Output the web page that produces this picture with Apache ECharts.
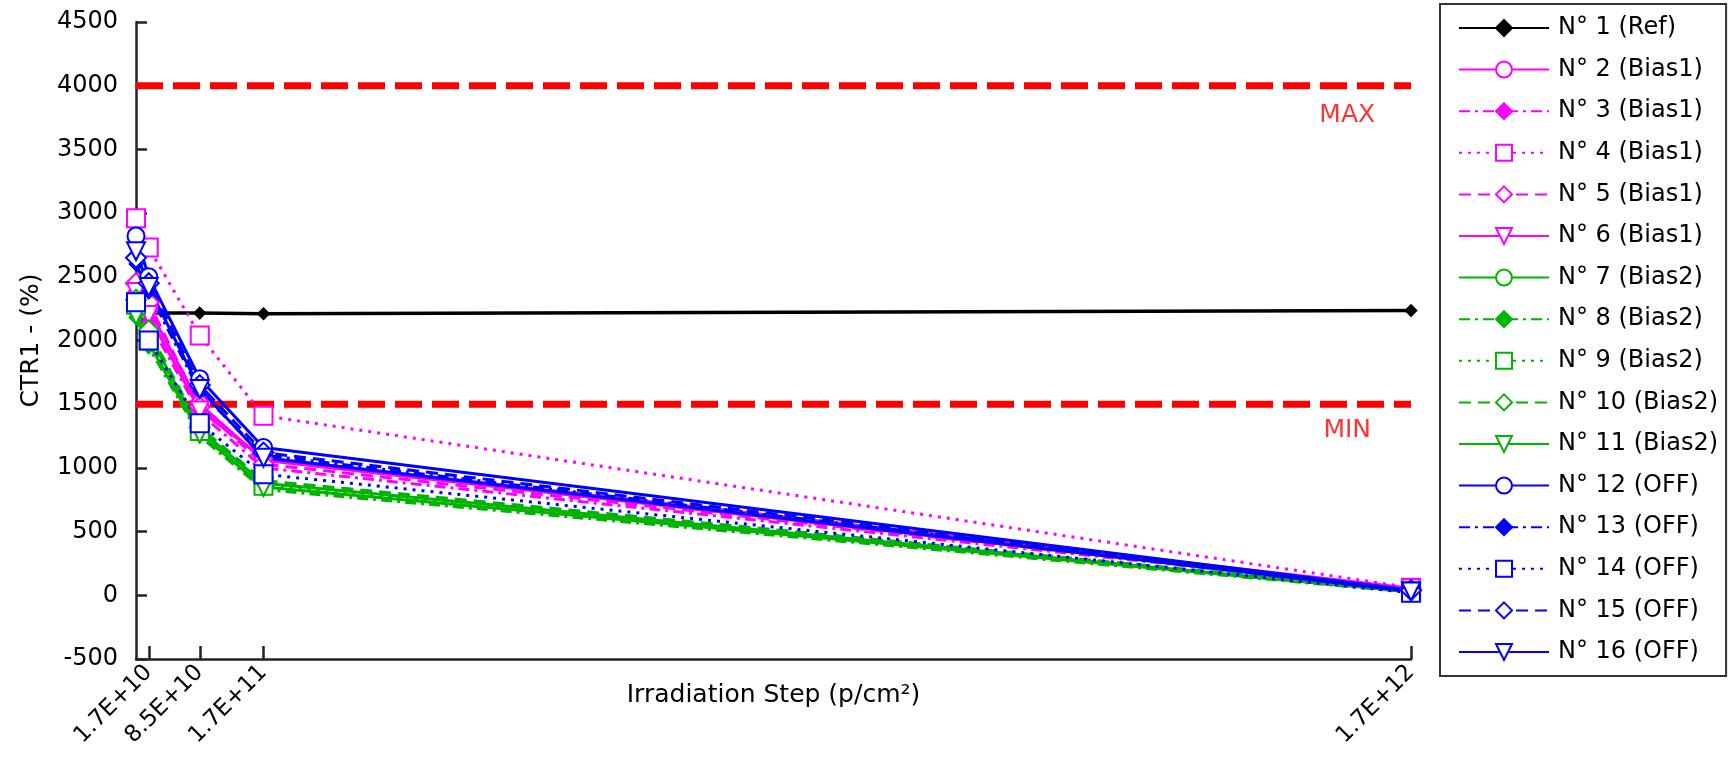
<!DOCTYPE html>
<html>
<head>
<meta charset="utf-8">
<script src="https://cdn.jsdelivr.net/npm/echarts@6/dist/echarts.min.js"></script>
<style>
html,body{margin:0;padding:0;background:#fff;}
#chart{width:1734px;height:768px;}
</style>
</head>
<body>
<div id="chart"></div>
<script>
// ---- Data ----
const xSteps = [0, 1.7e10, 8.5e10, 1.7e11, 1.7e12];
const xTickValues = [1.7e10, 8.5e10, 1.7e11, 1.7e12];
const xTickLabels = ['1.7E+10', '8.5E+10', '1.7E+11', '1.7E+12'];

const seriesNames = [
  'N° 1 (Ref)', 'N° 2 (Bias1)', 'N° 3 (Bias1)', 'N° 4 (Bias1)', 'N° 5 (Bias1)', 'N° 6 (Bias1)',
  'N° 7 (Bias2)', 'N° 8 (Bias2)', 'N° 9 (Bias2)', 'N° 10 (Bias2)', 'N° 11 (Bias2)',
  'N° 12 (OFF)', 'N° 13 (OFF)', 'N° 14 (OFF)', 'N° 15 (OFF)', 'N° 16 (OFF)'
];

const n1  = [2210, 2215, 2215, 2210, 2235];
const n2  = [2350, 2250, 1500, 1060, 40];
const n3  = [2300, 2150, 1430, 1000, 45];
const n4  = [2960, 2730, 2040, 1410, 60];
const n5  = [2450, 2300, 1480, 1030, 50];
const n6  = [2380, 2200, 1450, 1080, 55];
const n7  = [2250, 2050, 1300, 880, 30];
const n8  = [2180, 1950, 1250, 830, 25];
const n9  = [2280, 2000, 1290, 860, 30];
const n10 = [2320, 2080, 1320, 900, 35];
const n11 = [2200, 1980, 1270, 850, 30];
const n12 = [2820, 2500, 1700, 1160, 40];
const n13 = [2600, 2380, 1600, 1100, 35];
const n14 = [2300, 2000, 1350, 950, 20];
const n15 = [2650, 2450, 1650, 1120, 40];
const n16 = [2700, 2420, 1620, 1080, 30];
const seriesValues = [n1, n2, n3, n4, n5, n6, n7, n8, n9, n10, n11, n12, n13, n14, n15, n16];

const limitX = [0, 1.7e12];
const maxLimit = 4000;
const minLimit = 1500;
const limitLabels = [
  {text: 'MAX', x: 1.615e12, y: 3770},
  {text: 'MIN', x: 1.615e12, y: 1290}
];

// ---- Styles ----
const PINK = '#ff00ff', GREEN = '#00b400', BLUE = '#0000ff', BLACK = '#000000';
const groupColor = [BLACK, PINK, PINK, PINK, PINK, PINK, GREEN, GREEN, GREEN, GREEN, GREEN, BLUE, BLUE, BLUE, BLUE, BLUE];
const patterns = [
  {type: 'solid', symbol: 'emptyCircle', size: 17, rot: 0},
  {type: [11, 5, 3, 5], symbol: 'diamond', size: 12, rot: 0},
  {type: [3, 6], symbol: 'emptyRect', size: 18, rot: 0},
  {type: [12, 7], symbol: 'emptyDiamond', size: 20, rot: 0},
  {type: 'solid', symbol: 'emptyTriangle', size: 18, rot: 180}
];

const FONT = 'DejaVu Sans';
const series = [];
seriesValues.forEach((vals, i) => {
  let p;
  if (i === 0) p = {type: 'solid', symbol: 'diamond', size: 10, rot: 0};
  else p = patterns[(i - 1) % 5];
  series.push({
    name: seriesNames[i],
    type: 'line',
    data: xSteps.map((x, k) => [x, vals[k]]),
    symbol: p.symbol,
    symbolSize: p.size,
    symbolRotate: p.rot,
    showAllSymbol: true,
    lineStyle: {color: groupColor[i], width: i === 0 ? 3.5 : 3, type: p.type},
    itemStyle: {color: groupColor[i], borderColor: groupColor[i], borderWidth: 2.5},
    emphasis: {disabled: true},
    animation: false,
    z: 3
  });
});

[maxLimit, minLimit].forEach((v, i) => {
  series.push({
    name: i === 0 ? 'MAXLINE' : 'MINLINE',
    type: 'line',
    data: limitX.map(x => [x, v]),
    symbol: 'none',
    lineStyle: {color: '#ff0000', width: 7, type: [27, 10]},
    silent: true,
    animation: false,
    z: 2
  });
});

series.push({
  name: 'limitText',
  type: 'scatter',
  data: limitLabels.map(l => ({value: [l.x, l.y], label: {formatter: l.text}})),
  symbolSize: 0,
  label: {show: true, position: 'inside', color: '#ff0000', fontFamily: FONT, fontSize: 25},
  silent: true,
  animation: false,
  z: 2
});

const chart = echarts.init(document.getElementById('chart'), null, {renderer: 'canvas'});
chart.setOption({
  backgroundColor: '#ffffff',
  animation: false,
  grid: {left: 136, right: 323, top: 22, bottom: 109, outerBoundsMode: 'none'},
  xAxis: {
    type: 'value',
    min: 0,
    max: 1.7e12,
    name: 'Irradiation Step (p/cm²)',
    nameLocation: 'middle',
    nameGap: 24,
    nameMoveOverlap: false,
    nameTextStyle: {fontFamily: FONT, fontSize: 25, color: '#000'},
    axisLine: {show: true, onZero: false, lineStyle: {color: '#222', width: 2.5}},
    axisTick: {show: true, inside: true, length: 13, customValues: xTickValues, lineStyle: {color: '#222', width: 2.5}},
    axisLabel: {
      show: true, rotate: 45, margin: 10, customValues: xTickValues,
      fontFamily: FONT, fontSize: 23, color: '#000',
      formatter: v => { const k = xTickValues.findIndex(t => Math.abs(t - v) < 1e6); return k >= 0 ? xTickLabels[k] : ''; }
    },
    splitLine: {show: false}
  },
  yAxis: {
    type: 'value',
    min: -500,
    max: 4500,
    interval: 500,
    name: 'CTR1 - (%)',
    nameLocation: 'middle',
    nameGap: 92,
    nameMoveOverlap: false,
    nameTextStyle: {fontFamily: FONT, fontSize: 25, color: '#000'},
    axisLine: {show: true, lineStyle: {color: '#222', width: 2.5}},
    axisTick: {show: true, inside: true, length: 11, lineStyle: {color: '#222', width: 2.5}},
    axisLabel: {margin: 18, fontFamily: FONT, fontSize: 24, color: '#000', formatter: v => String(v)},
    splitLine: {show: false}
  },
  legend: {
    data: seriesNames,
    orient: 'vertical',
    left: 1440,
    top: 4,
    padding: [12, 8, 12, 18],
    itemWidth: 90,
    itemHeight: 20,
    itemGap: 17.6,
    backgroundColor: '#fff',
    borderColor: '#333',
    borderWidth: 2,
    borderRadius: 0,
    selectedMode: false,
    textStyle: {fontFamily: FONT, fontSize: 24, color: '#000', padding: [0, 0, 0, 4]}
  },
  series: series
});
</script>
</body>
</html>
